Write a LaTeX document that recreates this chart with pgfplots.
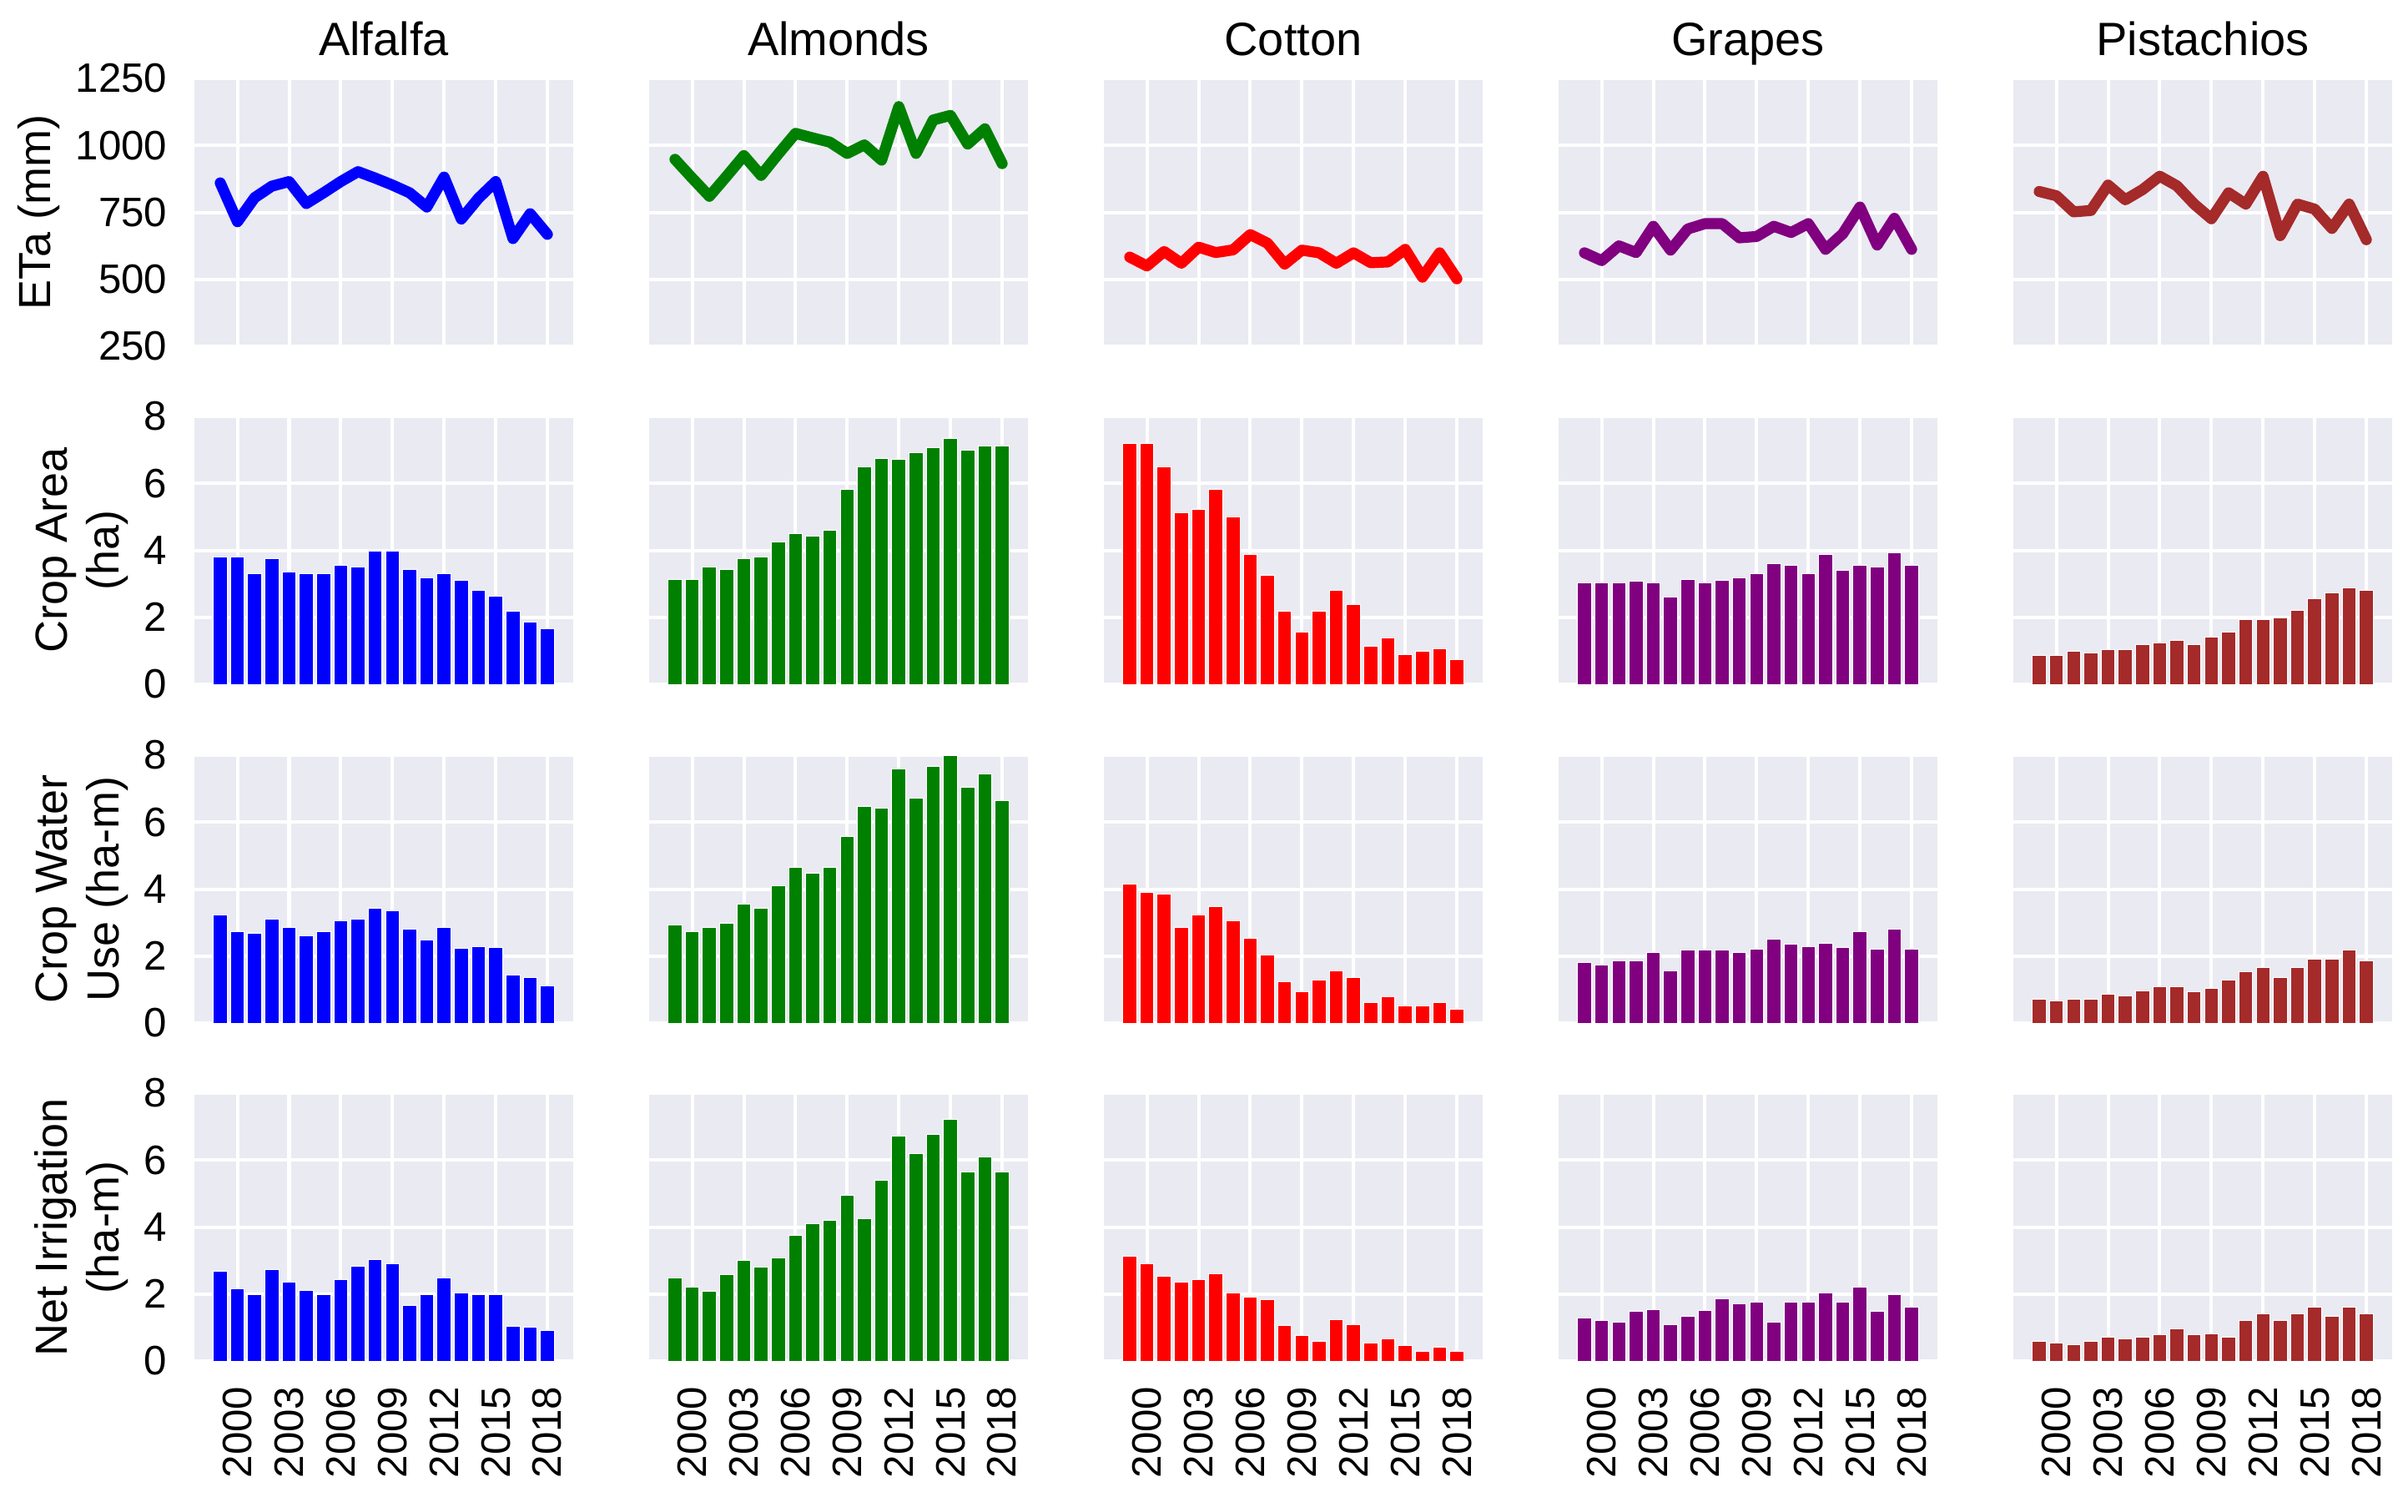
\documentclass[border=0pt]{standalone}
\usepackage{pgfplots}
\pgfplotsset{compat=1.18}
\usepackage{pgfplotstable}
\usepackage{fontspec}
\setmainfont{Liberation Sans}

\definecolor{bgc}{RGB}{234,234,242}
\definecolor{cAlf}{RGB}{0,0,255}
\definecolor{cAlm}{RGB}{0,128,0}
\definecolor{cCot}{RGB}{255,0,0}
\definecolor{cGra}{RGB}{128,0,128}
\definecolor{cPis}{RGB}{165,42,42}

\pgfplotstableread{
year alf alm cot gra pis
1999 860 948 583 599 828
2000 715 878 550 570 812
2001 805 810 604 625 752
2002 848 885 560 600 757
2003 865 962 620 698 852
2004 783 888 600 609 797
2005 823 968 610 688 835
2006 865 1045 667 708 885
2007 902 1028 635 708 849
2008 878 1012 557 655 781
2009 852 970 609 660 726
2010 823 1002 599 698 823
2011 770 945 560 675 781
2012 882 1145 599 708 885
2013 725 970 562 612 663
2014 803 1095 565 670 781
2015 865 1112 612 770 762
2016 652 1005 508 628 690
2017 745 1062 599 728 781
2018 668 932 502 612 648
}\etatab

\pgfplotstableread{
year alf alm cot gra pis
1999 3.80 3.12 7.19 3.03 0.87
2000 3.80 3.12 7.19 3.03 0.87
2001 3.31 3.50 6.50 3.03 0.99
2002 3.76 3.43 5.12 3.08 0.93
2003 3.35 3.74 5.23 3.03 1.03
2004 3.31 3.79 5.83 2.60 1.03
2005 3.31 4.24 5.00 3.12 1.18
2006 3.55 4.49 3.87 3.03 1.24
2007 3.50 4.42 3.25 3.10 1.31
2008 3.97 4.61 2.19 3.18 1.18
2009 3.97 5.81 1.55 3.31 1.42
2010 3.43 6.49 2.19 3.60 1.55
2011 3.18 6.75 2.81 3.55 1.94
2012 3.31 6.71 2.38 3.31 1.92
2013 3.10 6.92 1.14 3.88 1.98
2014 2.81 7.07 1.38 3.39 2.21
2015 2.63 7.33 0.89 3.55 2.55
2016 2.19 6.98 0.99 3.50 2.73
2017 1.86 7.11 1.05 3.93 2.87
2018 1.67 7.11 0.74 3.55 2.81
}\areatab

\pgfplotstableread{
year alf alm cot gra pis
1999 3.22 2.92 4.14 1.80 0.72
2000 2.73 2.73 3.91 1.74 0.67
2001 2.68 2.85 3.85 1.85 0.72
2002 3.11 2.97 2.85 1.85 0.72
2003 2.85 3.54 3.22 2.10 0.86
2004 2.60 3.42 3.47 1.57 0.81
2005 2.73 4.10 3.05 2.17 0.97
2006 3.05 4.65 2.54 2.17 1.08
2007 3.11 4.47 2.04 2.17 1.08
2008 3.42 4.66 1.24 2.10 0.93
2009 3.36 5.58 0.93 2.21 1.03
2010 2.80 6.47 1.29 2.51 1.29
2011 2.47 6.41 1.55 2.35 1.53
2012 2.85 7.59 1.37 2.29 1.66
2013 2.23 6.71 0.62 2.37 1.36
2014 2.29 7.66 0.79 2.25 1.66
2015 2.25 8.00 0.50 2.73 1.90
2016 1.43 7.03 0.50 2.21 1.90
2017 1.36 7.44 0.62 2.80 2.17
2018 1.12 6.64 0.42 2.21 1.85
}\watertab

\pgfplotstableread{
year alf alm cot gra pis
1999 2.69 2.47 3.14 1.29 0.59
2000 2.16 2.21 2.90 1.22 0.53
2001 1.98 2.07 2.53 1.15 0.48
2002 2.72 2.59 2.35 1.48 0.59
2003 2.35 3.00 2.43 1.54 0.70
2004 2.10 2.80 2.61 1.09 0.66
2005 1.98 3.09 2.02 1.34 0.70
2006 2.43 3.76 1.91 1.52 0.78
2007 2.84 4.10 1.83 1.85 0.96
2008 3.03 4.21 1.05 1.71 0.78
2009 2.90 4.94 0.76 1.77 0.82
2010 1.66 4.26 0.59 1.15 0.72
2011 1.98 5.39 1.23 1.77 1.21
2012 2.47 6.71 1.09 1.77 1.40
2013 2.04 6.19 0.53 2.03 1.21
2014 1.98 6.77 0.66 1.77 1.40
2015 1.98 7.22 0.45 2.21 1.60
2016 1.03 5.64 0.29 1.48 1.33
2017 1.00 6.09 0.41 1.98 1.60
2018 0.91 5.64 0.29 1.60 1.40
}\irrtab

\pgfplotsset{
  panel/.style={
    anchor=north west,
    width=113.5pt, height=80.25pt, scale only axis,
    xmin=1997.5, xmax=2019.5,
    xtick={2000,2003,2006,2009,2012,2015,2018},
    xticklabels={}, yticklabels={},
    axis background/.style={fill=bgc},
    grid=major,
    major grid style={white, line width=1pt},
    axis line style={draw=none},
    major tick length=0pt,
    tick style={draw=none},
    tick label style={font=\fontsize{12.3}{14.5}\selectfont, inner sep=0pt},
    yticklabel shift=8pt,
    xticklabel shift=7.5pt,
    xticklabel style={rotate=90, anchor=east},
    ylabel style={font=\fontsize{13.5}{15.6}\selectfont, align=center, inner sep=4.5pt},
    every axis title shift=0pt,
    title style={font=\fontsize{14}{16.8}\selectfont, at={(0.5,1)}, anchor=base, yshift=7pt},
    clip=true,
  },
}

\newcommand{\etapanel}[5]{%
\begin{axis}[panel, at={(#1,-23.5pt)}, ymin=250, ymax=1250,
  ytick={250,500,750,1000,1250}, title={#2}, #5]
\addplot[#4, line width=3.3pt, line join=round, line cap=round, mark=none] table[x=year,y=#3]{\etatab};
\end{axis}}

\newcommand{\barpanel}[6]{%
\begin{axis}[panel, at={(#1,#2)}, ymin=0, ymax=8, ytick={0,2,4,6,8}, #6]
\addplot[ybar, bar width=0.8, fill=#5, draw=white, line width=0.25pt] table[x=year,y=#4]{#3};
\end{axis}}

\begin{document}
\begin{tikzpicture}
\useasboundingbox (0,0) rectangle (721.5pt,-452.75pt);

% Row 1
\etapanel{58.25pt}{Alfalfa}{alf}{cAlf}{yticklabels={250,500,750,1000,1250}, ylabel={ETa (mm)}}
\etapanel{194.5pt}{Almonds}{alm}{cAlm}{}
\etapanel{330.75pt}{Cotton}{cot}{cCot}{}
\etapanel{467pt}{Grapes}{gra}{cGra}{}
\etapanel{603.25pt}{Pistachios}{pis}{cPis}{}

% Row 2
\barpanel{58.25pt}{-124.75pt}{\areatab}{alf}{cAlf}{yticklabels={0,2,4,6,8}, ylabel={Crop Area\\(ha)}}
\barpanel{194.5pt}{-124.75pt}{\areatab}{alm}{cAlm}{}
\barpanel{330.75pt}{-124.75pt}{\areatab}{cot}{cCot}{}
\barpanel{467pt}{-124.75pt}{\areatab}{gra}{cGra}{}
\barpanel{603.25pt}{-124.75pt}{\areatab}{pis}{cPis}{}

% Row 3
\barpanel{58.25pt}{-226.25pt}{\watertab}{alf}{cAlf}{yticklabels={0,2,4,6,8}, ylabel={Crop Water\\Use (ha-m)}}
\barpanel{194.5pt}{-226.25pt}{\watertab}{alm}{cAlm}{}
\barpanel{330.75pt}{-226.25pt}{\watertab}{cot}{cCot}{}
\barpanel{467pt}{-226.25pt}{\watertab}{gra}{cGra}{}
\barpanel{603.25pt}{-226.25pt}{\watertab}{pis}{cPis}{}

% Row 4
\barpanel{58.25pt}{-327.5pt}{\irrtab}{alf}{cAlf}{yticklabels={0,2,4,6,8}, ylabel={Net Irrigation\\(ha-m)}, xticklabels={2000,2003,2006,2009,2012,2015,2018}}
\barpanel{194.5pt}{-327.5pt}{\irrtab}{alm}{cAlm}{xticklabels={2000,2003,2006,2009,2012,2015,2018}}
\barpanel{330.75pt}{-327.5pt}{\irrtab}{cot}{cCot}{xticklabels={2000,2003,2006,2009,2012,2015,2018}}
\barpanel{467pt}{-327.5pt}{\irrtab}{gra}{cGra}{xticklabels={2000,2003,2006,2009,2012,2015,2018}}
\barpanel{603.25pt}{-327.5pt}{\irrtab}{pis}{cPis}{xticklabels={2000,2003,2006,2009,2012,2015,2018}}
\end{tikzpicture}
\end{document}
